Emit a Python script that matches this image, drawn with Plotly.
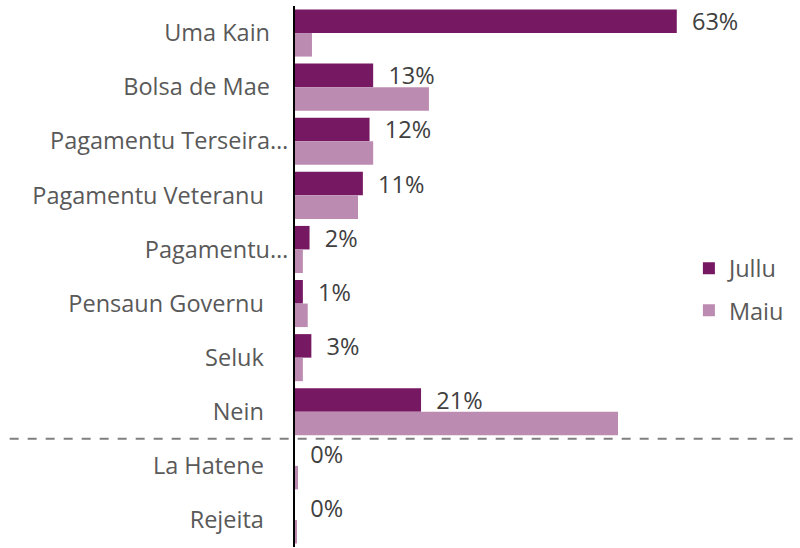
import plotly.graph_objects as go

# Categories, top to bottom
categories = [
    "Uma Kain", "Bolsa de Mae", "Pagamentu Terseira…", "Pagamentu Veteranu",
    "Pagamentu…", "Pensaun Governu", "Seluk", "Nein", "La Hatene", "Rejeita",
]
# Axis text for each category (trailing spaces keep the gap to the axis)
tick_text = [
    "Uma Kain" + "\u00a0" * 3, "Bolsa de Mae" + "\u00a0" * 3, "Pagamentu Terseira…",
    "Pagamentu Veteranu" + "\u00a0" * 4, "Pagamentu…", "Pensaun Governu" + "\u00a0" * 4,
    "Seluk" + "\u00a0" * 4, "Nein" + "\u00a0" * 4, "La Hatene" + "\u00a0" * 4,
    "Rejeita" + "\u00a0" * 4,
]
# Shares in percent
jullu = [63.0, 12.9, 12.3, 11.2, 2.4, 1.3, 2.7, 20.8, 0.0, 0.0]
maiu = [2.8, 22.1, 12.9, 10.4, 1.3, 2.1, 1.3, 53.3, 0.5, 0.3]

JULLU_COLOR = "#761862"
MAIU_COLOR = "#BC8BB1"
FONT = "Open Sans"
SIZE = 23.5

fig = go.Figure()
fig.add_trace(go.Bar(
    name="Jullu", y=categories, x=jullu, orientation="h",
    marker=dict(color=JULLU_COLOR, line=dict(width=0)),
    texttemplate="\u00a0\u00a0%{x:.0f}%", textposition="outside",
    textfont=dict(family=FONT, size=SIZE, color="#404040"),
    constraintext="none", cliponaxis=False, legend="legend",
))
fig.add_trace(go.Bar(
    name="Maiu", y=categories, x=maiu, orientation="h",
    marker=dict(color=MAIU_COLOR, line=dict(width=0)),
    legend="legend2",
))

# Dashed separator between the answers and the non-responses
fig.add_shape(
    type="line", xref="paper", yref="y", x0=-0.565, x1=1.0, y0=7.5, y1=7.5,
    line=dict(color="#808080", width=2, dash="dash"),
)

legend_style = dict(
    font=dict(family=FONT, size=SIZE, color="#595959"),
    bgcolor="rgba(0,0,0,0)", xanchor="left", yanchor="middle",
    itemclick=False,
)
fig.update_layout(
    width=800, height=548,
    margin=dict(l=295, r=0, t=6, b=1),
    paper_bgcolor="white", plot_bgcolor="white",
    barmode="group", bargap=0.13, bargroupgap=0,
    font=dict(family=FONT, size=SIZE, color="#595959"),
    showlegend=True,
    legend=dict(x=0.78, y=0.515, **legend_style),
    legend2=dict(x=0.78, y=0.437, **legend_style),
)
fig.update_xaxes(
    range=[0, 505 / 6.06], visible=False, showgrid=False, zeroline=False,
)
fig.update_yaxes(
    categoryorder="array", categoryarray=categories,
    tickmode="array", tickvals=categories, ticktext=tick_text,
    autorange="reversed", showgrid=False, zeroline=False,
    showline=True, linecolor="#000000", linewidth=2, ticks="",
    tickfont=dict(family=FONT, size=SIZE, color="#595959"),
)

fig.write_html("out.html")
